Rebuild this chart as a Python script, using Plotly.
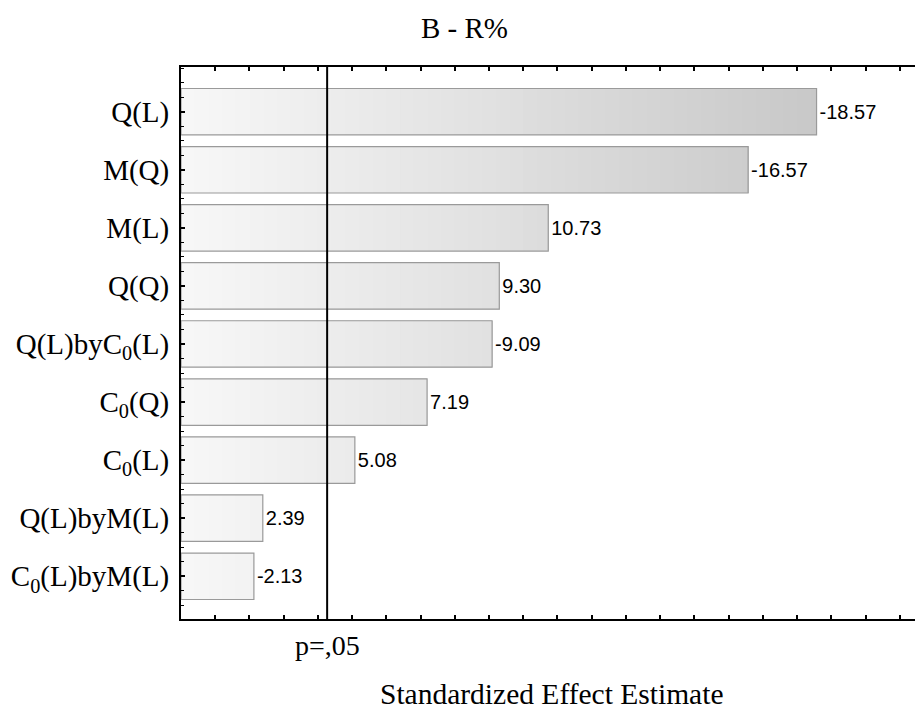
import numpy as np
import plotly.graph_objects as go

# ---- data ----
factors = ["Q(L)", "M(Q)", "M(L)", "Q(Q)", "Q(L)byC<sub>0</sub>(L)",
           "C<sub>0</sub>(Q)", "C<sub>0</sub>(L)", "Q(L)byM(L)", "C<sub>0</sub>(L)byM(L)"]
effects = [-18.57, -16.57, 10.73, 9.30, -9.09, 7.19, 5.08, 2.39, -2.13]
p_crit = 4.27
p_label = "p=,05"
title_text = "B - R%"
x_title = "Standardized Effect Estimate"
x_max = 21.68

ypos = list(range(len(factors)))
mag = np.abs(np.array(effects))

fig = go.Figure()

# gradient fill (shade depends on position along the x axis)
step = 0.4
lows = np.arange(0, mag.max(), step)
for lo in lows:
    seg = np.clip(mag - lo, 0, None)
    mid = lo + step / 2
    g = int(round(248 - 2.6 * mid))
    fig.add_trace(go.Bar(
        x=seg, y=ypos, base=lo, orientation="h", width=0.8,
        marker=dict(color=f"rgb({g},{g},{g})", line=dict(width=0)),
        hoverinfo="skip", showlegend=False))

# outline + value labels
fig.add_trace(go.Bar(
    x=mag, y=ypos, orientation="h", width=0.8,
    marker=dict(color="rgba(0,0,0,0)", line=dict(color="#9a9a9a", width=1.2)),
    text=[f"{v:.2f}" for v in effects], textposition="outside",
    textfont=dict(family="Liberation Sans", size=20, color="black"),
    cliponaxis=False, showlegend=False))

serif = "Liberation Serif"

# page body has an 8px margin, so the figure is 8px smaller and offset
fig.update_layout(
    width=915, height=700,
    margin=dict(l=173, r=0, t=59, b=89),
    barmode="overlay",
    plot_bgcolor="white", paper_bgcolor="white",
    xaxis=dict(range=[0, x_max], showticklabels=False, ticks="inside",
               ticklen=4, tickwidth=1.5, tickcolor="black", dtick=1, tick0=0,
               showline=True, linecolor="black", linewidth=2, mirror="ticks",
               showgrid=False, zeroline=False),
    yaxis=dict(tickmode="array", tickvals=ypos, ticktext=factors,
               range=[8.736, -0.77], ticks="inside", ticklen=4, tickwidth=1.5,
               tickcolor="black", showline=True, linecolor="black", linewidth=2,
               showgrid=False, zeroline=False, ticklabelstandoff=4,
               tickfont=dict(family=serif, size=29, color="black"),
               minor=dict(dtick=0.25, tick0=0, ticks="inside", ticklen=3,
                          tickcolor="black", tickwidth=1, showgrid=False)),
    shapes=[dict(type="line", xref="x", yref="paper", x0=p_crit, x1=p_crit,
                 y0=0, y1=1, line=dict(color="black", width=2), layer="above")],
    annotations=[
        dict(text=p_label, xref="x", yref="paper", x=p_crit, y=0,
             xanchor="center", yanchor="middle", yshift=-26, showarrow=False,
             font=dict(family=serif, size=28, color="black")),
        dict(text=x_title, xref="paper", yref="paper", x=0.5, y=0,
             xanchor="center", yanchor="middle", yshift=-75, showarrow=False,
             font=dict(family=serif, size=29.5, color="black")),
        dict(text=title_text, xref="paper", yref="paper", x=(464 - 181) / 742, y=1,
             xanchor="center", yanchor="middle", yshift=39, showarrow=False,
             font=dict(family=serif, size=29, color="black")),
    ],
)

fig.write_html("out.html")
